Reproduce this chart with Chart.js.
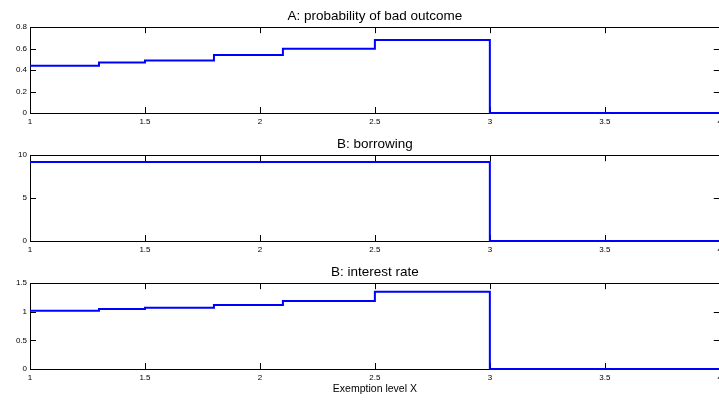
<!DOCTYPE html>
<html>
<head>
<meta charset="utf-8">
<script src="https://cdn.jsdelivr.net/npm/chart.js@4"></script>
<style>
  html, body { margin: 0; padding: 0; background: #fff; overflow: hidden; }
  #wrap { position: relative; width: 719px; height: 401px; overflow: hidden; }
  canvas { position: absolute; left: 0; }
</style>
</head>
<body>
<div id="wrap">
  <canvas id="panelA" width="726" height="128" style="top:0px"></canvas>
  <canvas id="panelB" width="726" height="128" style="top:128px"></canvas>
  <canvas id="panelC" width="726" height="145" style="top:256px"></canvas>
</div>
<script>
// step breakpoints along the exemption level
const exemption = [1, 1.3, 1.5, 1.8, 2.1, 2.5, 3, 4];
const probBad = [0.44, 0.47, 0.49, 0.54, 0.60, 0.68, 0, 0];
const borrowing = [9.2, 9.2, 9.2, 9.2, 9.2, 9.2, 0, 0];
const interestRate = [1.02, 1.05, 1.07, 1.12, 1.19, 1.35, 0, 0];

const xTicks = [1, 1.5, 2, 2.5, 3, 3.5, 4];
const yTicksA = [0, 0.2, 0.4, 0.6, 0.8];
const yTicksB = [0, 5, 10];
const yTicksC = [0, 0.5, 1, 1.5];

const titleA = 'A: probability of bad outcome';
const titleB = 'B: borrowing';
const titleC = 'B: interest rate';
const xLabel = 'Exemption level X';

const FONT = "'Liberation Sans', Arial, sans-serif";
const TICK = 6;

// matlab-like box with inward ticks on all four sides
const boxPlugin = {
    id: 'matlabBox',
    beforeDatasetsDraw(chart) {
        const ctx = chart.ctx;
        const a = chart.chartArea;
        const x = chart.scales.x, y = chart.scales.y;
        ctx.save();
        ctx.strokeStyle = '#000';
        ctx.lineWidth = 1;
        ctx.beginPath();
        x.ticks.forEach(t => {
            const px = Math.round(x.getPixelForValue(t.value)) + 0.5;
            ctx.moveTo(px, a.top); ctx.lineTo(px, a.top + TICK);
            ctx.moveTo(px, a.bottom); ctx.lineTo(px, a.bottom - TICK);
        });
        y.ticks.forEach(t => {
            const py = Math.round(y.getPixelForValue(t.value)) + 0.5;
            ctx.moveTo(a.left, py); ctx.lineTo(a.left + TICK, py);
            ctx.moveTo(a.right, py); ctx.lineTo(a.right - TICK, py);
        });
        ctx.stroke();
        ctx.strokeRect(Math.round(a.left) + 0.5, Math.round(a.top) + 0.5,
            Math.round(a.width), Math.round(a.height));
        ctx.restore();
    }
};

function makePanel(id, title, values, yMax, yTicks, withLabel) {
    const pts = exemption.map((v, i) => ({ x: v, y: values[i] }));
    return new Chart(document.getElementById(id), {
        type: 'line',
        data: {
            datasets: [{
                data: pts,
                stepped: 'before',
                borderColor: '#0000ff',
                borderWidth: 2,
                pointRadius: 0,
                fill: false,
                clip: false
            }]
        },
        options: {
            responsive: false,
            animation: false,
            layout: { padding: { left: 0, right: 4, top: 0, bottom: 0 } },
            plugins: {
                legend: { display: false },
                tooltip: { enabled: false },
                title: {
                    display: true,
                    text: title,
                    color: '#000',
                    fullSize: false,
                    font: { family: FONT, size: 13.5, weight: 'normal' },
                    padding: { top: 8, bottom: 3 }
                }
            },
            scales: {
                x: {
                    type: 'linear',
                    min: 1,
                    max: 4,
                    grid: { display: false, drawTicks: false },
                    border: { display: false },
                    afterBuildTicks: s => { s.ticks = xTicks.map(v => ({ value: v })); },
                    afterFit: s => { s.height = withLabel ? 32 : 15; },
                    ticks: {
                        color: '#000',
                        padding: 4,
                        maxRotation: 0,
                        font: { family: FONT, size: 8 },
                        callback: v => String(v)
                    },
                    title: {
                        display: withLabel,
                        text: xLabel,
                        color: '#000',
                        font: { family: FONT, size: 10.5 },
                        padding: { top: 0, bottom: 6 }
                    }
                },
                y: {
                    min: 0,
                    max: yMax,
                    grid: { display: false, drawTicks: false },
                    border: { display: false },
                    afterBuildTicks: s => { s.ticks = yTicks.map(v => ({ value: v })); },
                    afterFit: s => { s.width = 30; },
                    ticks: {
                        color: '#000',
                        padding: 3,
                        font: { family: FONT, size: 8 },
                        callback: v => String(v)
                    }
                }
            }
        },
        plugins: [boxPlugin]
    });
}

makePanel('panelA', titleA, probBad, 0.8, yTicksA, false);
makePanel('panelB', titleB, borrowing, 10, yTicksB, false);
makePanel('panelC', titleC, interestRate, 1.5, yTicksC, true);
</script>
</body>
</html>
